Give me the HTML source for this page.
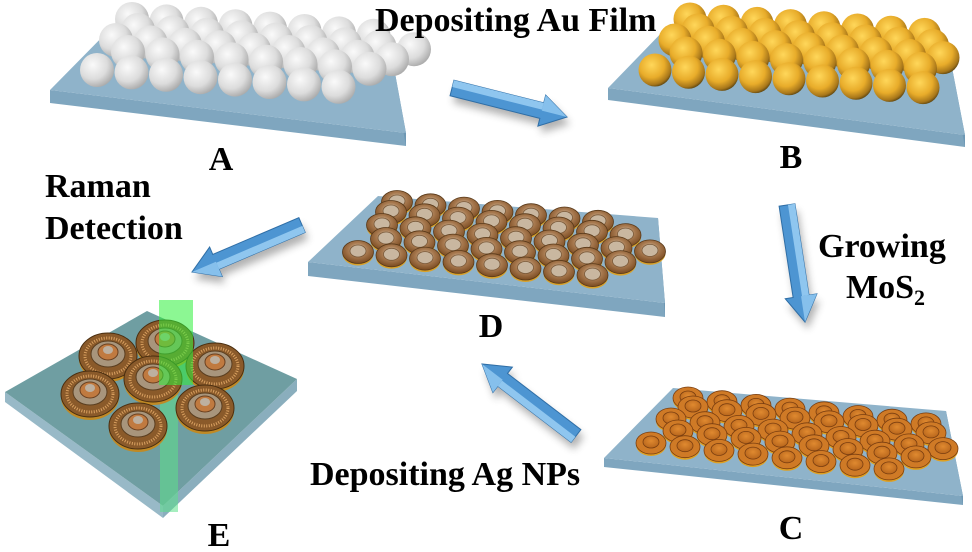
<!DOCTYPE html>
<html><head><meta charset="utf-8">
<style>
html,body{margin:0;padding:0;background:#fff;}
svg{display:block}
text{font-family:"Liberation Serif",serif;font-weight:bold;fill:#000}
</style></head>
<body>
<svg id="s" width="972" height="552" viewBox="0 0 972 552" xmlns="http://www.w3.org/2000/svg">
<defs>
<radialGradient id="gw" cx="0.38" cy="0.35" r="0.7"><stop offset="0" stop-color="#fafafa"/><stop offset="0.6" stop-color="#dcdcdc"/><stop offset="1" stop-color="#a8a8a8"/></radialGradient>
<radialGradient id="gg" cx="0.4" cy="0.35" r="0.7"><stop offset="0" stop-color="#ffd75a"/><stop offset="0.55" stop-color="#e8ac2a"/><stop offset="0.85" stop-color="#a7761a"/><stop offset="1" stop-color="#4a3a10"/></radialGradient>
<radialGradient id="go" cx="0.5" cy="0.4" r="0.6"><stop offset="0" stop-color="#e08a30"/><stop offset="1" stop-color="#b8661c"/></radialGradient>
<radialGradient id="gd" cx="0.5" cy="0.4" r="0.6"><stop offset="0" stop-color="#e8dcc8"/><stop offset="0.5" stop-color="#a87a50"/><stop offset="1" stop-color="#7a4a20"/></radialGradient>
<filter id="sh" x="-30%" y="-30%" width="160%" height="160%"><feGaussianBlur stdDeviation="4"/></filter>
</defs>
<g id="g"></g>
<text x="375" y="31" font-size="34">Depositing Au Film</text>
<text x="221" y="170" font-size="34" text-anchor="middle">A</text>
<text x="791" y="168" font-size="34" text-anchor="middle">B</text>
<text x="45" y="197" font-size="34">Raman</text>
<text x="45" y="239" font-size="34">Detection</text>
<text x="818" y="257" font-size="34">Growing</text>
<text x="846" y="298" font-size="34">MoS<tspan font-size="22" dy="7">2</tspan></text>
<text x="491" y="337" font-size="34" text-anchor="middle">D</text>
<text x="310" y="485" font-size="34">Depositing Ag NPs</text>
<text x="791" y="539" font-size="34" text-anchor="middle">C</text>
<text x="219" y="546" font-size="34" text-anchor="middle">E</text>
</svg>
<script>
var NS="http://www.w3.org/2000/svg",G=document.getElementById("g");
function el(t,a){var e=document.createElementNS(NS,t);for(var k in a)e.setAttribute(k,a[k]);G.appendChild(e);return e;}
function pts(a){return a.map(function(p){return p[0]+","+p[1]}).join(" ");}
function slab(bl,br,fr,fl,th){
 el("polygon",{points:pts([fl,fr,[fr[0],fr[1]+th],[fl[0],fl[1]+th]]),fill:"#7fa6bf"});
 el("polygon",{points:pts([br,fr,[fr[0],fr[1]+th],[br[0],br[1]+th]]),fill:"#6e98b4"});
 el("polygon",{points:pts([bl,br,fr,fl]),fill:"#8fb3ca"});
}
function arrow(x1,y1,x2,y2){
 var dx=x2-x1,dy=y2-y1,L=Math.hypot(dx,dy),ux=dx/L,uy=dy/L,nx=-uy,ny=ux;
 var w=8,hw=16,hl=26;
 function P(a,b){return [x1+ux*a+nx*b,y1+uy*a+ny*b];}
 var poly=[P(0,-w),P(L-hl,-w),P(L-hl,-hw),P(L,0),P(L-hl,hw),P(L-hl,w),P(0,w)];
 el("polygon",{points:pts(poly.map(function(p){return [p[0]+3,p[1]+7]})),fill:"#555",opacity:"0.45",filter:"url(#sh)"});
 el("polygon",{points:pts(poly),fill:"#4d95d2",stroke:"#2f6ea6","stroke-width":"1"});
 el("polygon",{points:pts([P(0,-w),P(L-hl,-w),P(L-hl,-1),P(0,-1)]),fill:"#8fc6ef"});
 el("polygon",{points:pts([P(L-hl,-hw),P(L,0),P(L-hl,0)]),fill:"#86c0ec"});
}
function grid(rows,u,fn){
 for(var j=rows.length-1;j>=0;j--){var r=rows[j];for(var i=0;i<r[2];i++)fn(r[0]+i*u[0],r[1]+i*u[1]);}
}
// A
slab([115,24],[390,46],[406,133],[50,90],13);
grid([[97,70,8],[128,52,8],[116,40,9],[138,30,9],[132,19,8]],[34.5,2.4],function(x,y){el("circle",{cx:x,cy:y,r:17,fill:"url(#gw)"});});
// B
slab([670,24],[948,47],[965,135],[608,88],12);
grid([[655,70,9],[686,53,8],[675,40,9],[698,30,8],[690,19,8]],[33.5,2.2],function(x,y){el("circle",{cx:x,cy:y,r:16.5,fill:"url(#gg)"});});
// D
slab([378,196],[658,218],[665,303],[308,262],14);
grid([[358,252,8],[386,239,8],[382,225,9],[391,212,8],[397,202,7]],[33.5,3.3],function(x,y){
 el("ellipse",{cx:x,cy:y+2,rx:15.5,ry:11.5,fill:"#d9a22a"});
 el("ellipse",{cx:x,cy:y,rx:15.5,ry:11.5,fill:"url(#gd)",stroke:"#5a3a1a","stroke-width":"0.8"});
 el("ellipse",{cx:x,cy:y-1,rx:8,ry:6,fill:"#c9b7a0",stroke:"#7a5a3a","stroke-width":"0.8"});});
// C
slab([673,388],[946,411],[963,496],[604,458],9);
grid([[651,443,8],[678,431,8],[671,419,9],[693,407,8],[688,398,8]],[34,3.7],function(x,y){
 el("ellipse",{cx:x,cy:y+2,rx:15,ry:11,fill:"#e0a020"});
 el("ellipse",{cx:x,cy:y,rx:15,ry:11,fill:"#cf7a26",stroke:"#7a3e10","stroke-width":"0.8"});
 el("ellipse",{cx:x,cy:y-1,rx:8,ry:6,fill:"url(#go)",stroke:"#7a3e10","stroke-width":"0.8"});});
// E
el("polygon",{points:pts([[5,392],[163,506],[163,518],[5,402]]),fill:"#98b9c7"});
el("polygon",{points:pts([[163,506],[297,379],[297,391],[163,518]]),fill:"#8aaebd"});
el("polygon",{points:pts([[5,392],[147,311],[297,379],[163,506]]),fill:"#6f9ea2"});
el("polygon",{points:pts([[160,400],[178,395],[178,512],[160,512]]),fill:"#5de08a",opacity:"0.55"});
[[165,343],[108,356],[215,366],[153,379],[90,394],[205,408],[138,426]].forEach(function(c){
 var x=c[0],y=c[1];
 el("ellipse",{cx:x,cy:y+3,rx:29,ry:23,fill:"#c08a25"});
 el("ellipse",{cx:x,cy:y,rx:29,ry:23,fill:"#8a5a2a",stroke:"#4a2e10","stroke-width":"1"});
 el("ellipse",{cx:x,cy:y,rx:23,ry:18,fill:"none",stroke:"#d9a060","stroke-width":"3","stroke-dasharray":"1 1.5"});
 el("ellipse",{cx:x,cy:y-2,rx:17,ry:13,fill:"#a8957c",stroke:"#5a3e20","stroke-width":"1"});
 el("ellipse",{cx:x,cy:y-4,rx:10,ry:8,fill:"#c07a40",stroke:"#6a4020","stroke-width":"1"});
 el("ellipse",{cx:x,cy:y-6,rx:5,ry:4,fill:"#bdb0a0"});
});
el("rect",{x:159,y:300,width:34,height:85,fill:"#2ef03a",opacity:"0.55"});
arrow(452,88,567,117);
arrow(787,205,805,322);
arrow(576,436,482,364);
arrow(302,225,192,272);
</script>
</body></html>
